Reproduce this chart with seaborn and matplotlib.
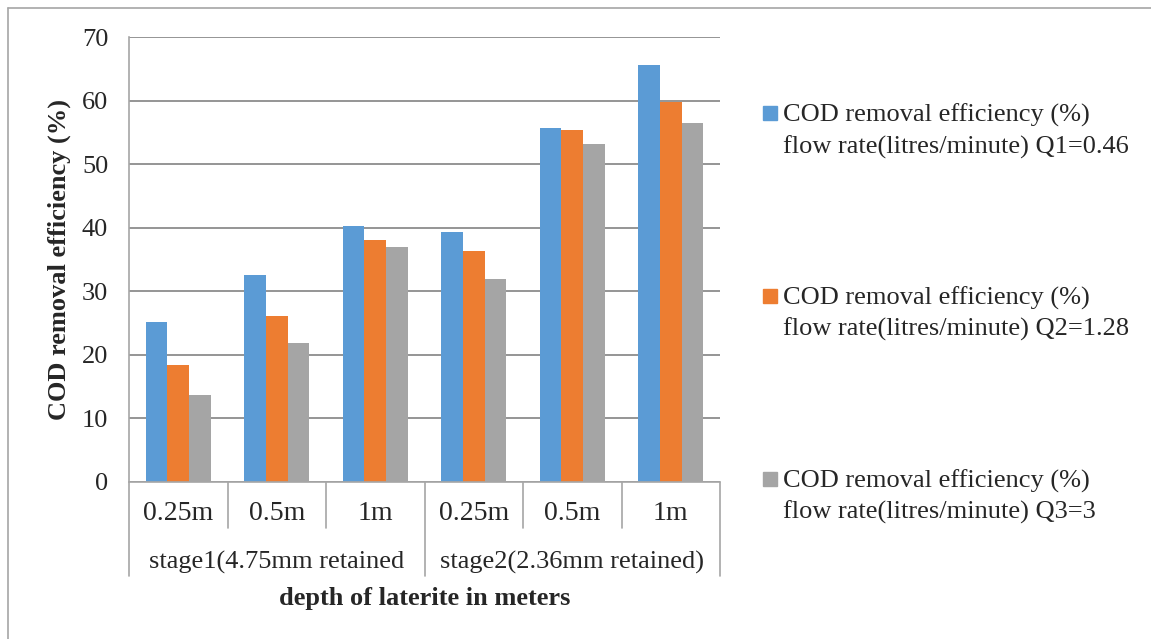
import matplotlib
matplotlib.use("Agg")
import matplotlib.pyplot as plt
import matplotlib.patches as mpatches
from matplotlib.legend_handler import HandlerPatch
from matplotlib.lines import Line2D
import seaborn as sns
import pandas as pd

# data
depth_labels = ["0.25m", "0.5m", "1m", "0.25m", "0.5m", "1m"]
stage_labels = ["stage1(4.75mm retained", "stage2(2.36mm retained)"]
positions = ["s1 0.25m", "s1 0.5m", "s1 1m", "s2 0.25m", "s2 0.5m", "s2 1m"]
series_names = [
    "COD removal efficiency (%)\nflow rate(litres/minute) Q1=0.46",
    "COD removal efficiency (%)\nflow rate(litres/minute) Q2=1.28",
    "COD removal efficiency (%)\nflow rate(litres/minute) Q3=3",
]
q1 = [25.2, 32.6, 40.3, 39.3, 55.7, 65.6]
q2 = [18.4, 26.1, 38.1, 36.3, 55.3, 59.8]
q3 = [13.7, 21.8, 37.0, 31.9, 53.2, 56.5]
colors = ["#5B9BD5", "#ED7D31", "#A5A5A5"]

df = pd.DataFrame({
    "position": positions * 3,
    "value": q1 + q2 + q3,
    "series": [series_names[0]] * 6 + [series_names[1]] * 6 + [series_names[2]] * 6,
})

sns.set_style("white")
plt.rcParams["font.family"] = ["Liberation Serif", "DejaVu Serif"]
fs = 19

fig = plt.figure(figsize=(11.51, 6.39), dpi=100)
ax = fig.add_axes([129 / 1151, 1 - 482 / 639, 591 / 1151, 445 / 639])

sns.barplot(data=df, x="position", y="value", hue="series", order=positions,
            hue_order=series_names, palette=colors, saturation=1, width=0.66,
            gap=0, linewidth=0, legend=False, ax=ax)

ax.set_ylim(0, 70)
ax.set_xlim(-0.5, 5.5)
ax.set_yticks(range(0, 71, 10))
ax.yaxis.grid(True, color="#8C8C8C", linewidth=1.3)
ax.set_axisbelow(True)
for side in ["top", "right", "bottom"]:
    ax.spines[side].set_visible(False)
ax.spines["left"].set_color("#A6A6A6")
ax.spines["left"].set_linewidth(1.2)
ax.tick_params(axis="y", length=5, width=1.2, color="#A6A6A6", pad=10, labelsize=fs)
ax.tick_params(axis="x", length=0, pad=14, labelsize=20)
ax.set_xticks(range(6))
ax.set_xticklabels(depth_labels)

# multi level category axis
trans = ax.get_xaxis_transform()
for b in [-0.5, 0.5, 1.5, 2.5, 3.5, 4.5, 5.5]:
    low = -0.211 if b in (-0.5, 2.5, 5.5) else -0.103
    ax.plot([b, b], [0, low], transform=trans, color="#A6A6A6", lw=1.2, clip_on=False)
ax.plot([-0.5, 5.5], [0, 0], transform=trans, color="#A6A6A6", lw=1.2, clip_on=False)
ax.text(1, -0.181, stage_labels[0], transform=trans, ha="center", va="center", fontsize=fs)
ax.text(4, -0.181, stage_labels[1], transform=trans, ha="center", va="center", fontsize=fs)

ax.set_xlabel("depth of laterite in meters", fontsize=19, fontweight="bold")
ax.xaxis.set_label_coords(0.5, -0.261)
ax.xaxis.label.set_va("center")
ax.set_ylabel("COD removal efficiency (%)", fontsize=19, fontweight="bold")
ax.yaxis.set_label_coords(-0.118, 0.5)
ax.yaxis.label.set_va("center")


def square_first_line(legend, orig_handle, xdescent, ydescent, width, height, fontsize):
    s = 0.53 * fontsize
    return mpatches.Rectangle((width - s - xdescent, 0.74 * fontsize), s, s)


handles = [mpatches.Patch(color=c) for c in colors]
leg = ax.legend(handles, series_names, loc="upper left",
                bbox_to_anchor=(759 / 1151, 1 - 104 / 639), bbox_transform=fig.transFigure,
                frameon=False, fontsize=fs, labelspacing=4.85, handlelength=0.7,
                handletextpad=0.22, borderaxespad=0, borderpad=0,
                handler_map={mpatches.Patch: HandlerPatch(patch_func=square_first_line)})
for t in leg.get_texts():
    t.set_linespacing(1.44)

# outer frame (top and left edges)
fig.add_artist(Line2D([8 / 1151, 1], [1 - 8 / 639, 1 - 8 / 639], transform=fig.transFigure,
                      color="#A6A6A6", lw=1.2))
fig.add_artist(Line2D([8 / 1151, 8 / 1151], [0, 1 - 8 / 639], transform=fig.transFigure,
                      color="#A6A6A6", lw=1.2))

fig.savefig("out.png", dpi=100)
